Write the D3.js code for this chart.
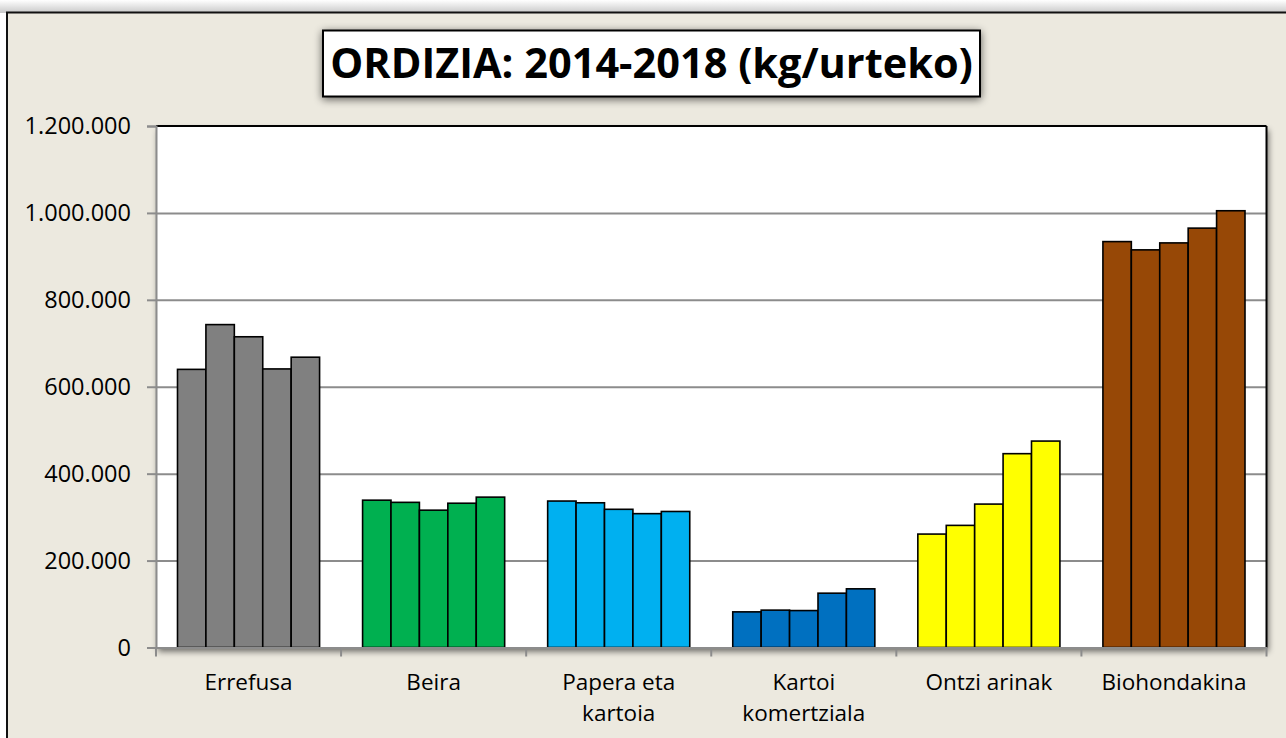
<!DOCTYPE html>
<html>
<head>
<meta charset="utf-8">
<script src="https://cdn.jsdelivr.net/npm/d3@7"></script>
<style>
  html, body { margin: 0; padding: 0; background: #ffffff; }
  svg { display: block; }
</style>
</head>
<body>
<svg id="chart" width="1286" height="738"></svg>
<script>
// ---- Data ----
const titleText = "ORDIZIA: 2014-2018 (kg/urteko)";
const categories = ["Errefusa", "Beira", "Papera eta kartoia", "Kartoi komertziala", "Ontzi arinak", "Biohondakina"];
const categoryLabels = [["Errefusa"], ["Beira"], ["Papera eta", "kartoia"], ["Kartoi", "komertziala"], ["Ontzi arinak"], ["Biohondakina"]];
const years = ["2014", "2015", "2016", "2017", "2018"];
const errefusa = [640000, 743000, 715000, 641000, 668000];
const beira = [339000, 334000, 316000, 332000, 346000];
const paperaEtaKartoia = [337000, 333000, 318000, 308000, 313000];
const kartoiKomertziala = [82000, 86000, 85000, 125000, 135000];
const ontziArinak = [261000, 281000, 330000, 446000, 475000];
const biohondakina = [934000, 915000, 931000, 965000, 1005000];
const yTicks = [0, 200000, 400000, 600000, 800000, 1000000, 1200000];
const categoryColors = ["#808080", "#00B050", "#00B0F0", "#0070C0", "#FFFF00", "#974806"];

const seriesByCategory = [errefusa, beira, paperaEtaKartoia, kartoiKomertziala, ontziArinak, biohondakina];
const rows = [];
categories.forEach((c, i) => years.forEach((yr, j) => rows.push({cat: c, ci: i, year: yr, value: seriesByCategory[i][j]})));

// ---- Layout ----
const svg = d3.select("#chart");
const W = 1286, H = 738;
const plot = {left: 156, top: 126, right: 1266.5, bottom: 647.5};
const pw = plot.right - plot.left, ph = plot.bottom - plot.top;
const FONT = "'Open Sans', 'Noto Sans', sans-serif";

const defs = svg.append("defs");
const topShade = defs.append("linearGradient").attr("id", "topShade").attr("x1", 0).attr("x2", 0).attr("y1", 0).attr("y2", 1);
topShade.append("stop").attr("offset", "0%").attr("stop-color", "#ffffff");
topShade.append("stop").attr("offset", "100%").attr("stop-color", "#c8c8c8");

const shadow = defs.append("filter").attr("id", "shadow").attr("x", "-10%").attr("y", "-10%").attr("width", "120%").attr("height", "130%");
shadow.append("feGaussianBlur").attr("in", "SourceAlpha").attr("stdDeviation", 3);
shadow.append("feOffset").attr("dx", 2).attr("dy", 4).attr("result", "ob");
shadow.append("feComponentTransfer").append("feFuncA").attr("type", "linear").attr("slope", 0.55);
const sm = shadow.append("feMerge");
sm.append("feMergeNode");
sm.append("feMergeNode").attr("in", "SourceGraphic");

const shadow2 = defs.append("filter").attr("id", "shadow2").attr("x", "-10%").attr("y", "-20%").attr("width", "120%").attr("height", "150%");
shadow2.append("feGaussianBlur").attr("in", "SourceAlpha").attr("stdDeviation", 4);
shadow2.append("feOffset").attr("dx", 0).attr("dy", 2).attr("result", "ob");
shadow2.append("feComponentTransfer").append("feFuncA").attr("type", "linear").attr("slope", 0.6);
const sm2 = shadow2.append("feMerge");
sm2.append("feMergeNode");
sm2.append("feMergeNode").attr("in", "SourceGraphic");

// page background and top shading
svg.append("rect").attr("x", 0).attr("y", 0).attr("width", W).attr("height", 13).attr("fill", "url(#topShade)");
// chart area
svg.append("rect").attr("x", 7).attr("y", 12.5).attr("width", W + 20).attr("height", H + 20)
  .attr("fill", "#ECE9DF").attr("stroke", "#111").attr("stroke-width", 2);

// ---- Scales ----
const x0 = d3.scaleBand().domain(categories).range([plot.left, plot.right]).padding(0);
const innerPad = 21.5;
const x1 = d3.scaleBand().domain(years).range([innerPad, x0.bandwidth() - innerPad]).padding(0);
const y = d3.scaleLinear().domain([0, 1200000]).range([plot.bottom, plot.top]);

const locale = d3.formatLocale({decimal: ",", thousands: ".", grouping: [3], currency: ["", ""]});
const fmt = locale.format(",.0f");

// plot background with shadow
svg.append("rect").attr("x", plot.left).attr("y", plot.top).attr("width", pw).attr("height", ph)
  .attr("fill", "#ffffff").attr("filter", "url(#shadow)");

// gridlines
const grid = svg.append("g").attr("transform", `translate(${plot.left},0)`)
  .call(d3.axisLeft(y).tickValues(yTicks.filter(v => v > 0 && v < 1200000)).tickSize(-pw).tickFormat(""));
grid.select(".domain").remove();
grid.selectAll(".tick line").attr("stroke", "#8c8c8c").attr("stroke-width", 2);

// plot border top & right
svg.append("line").attr("x1", plot.left).attr("x2", plot.right).attr("y1", plot.top).attr("y2", plot.top)
  .attr("stroke", "#000").attr("stroke-width", 2);
svg.append("line").attr("x1", plot.right).attr("x2", plot.right).attr("y1", plot.top).attr("y2", plot.bottom)
  .attr("stroke", "#000").attr("stroke-width", 2);

// bars
svg.append("g").selectAll("rect").data(rows).join("rect")
  .attr("x", d => x0(d.cat) + x1(d.year))
  .attr("y", d => y(d.value))
  .attr("width", x1.bandwidth())
  .attr("height", d => y(0) - y(d.value))
  .attr("fill", d => categoryColors[d.ci])
  .attr("stroke", "#000").attr("stroke-width", 1.6);

// y axis
const yAxis = svg.append("g").attr("transform", `translate(${plot.left},0)`)
  .call(d3.axisLeft(y).tickValues(yTicks).tickSize(9).tickPadding(16).tickFormat(fmt));
yAxis.select(".domain").attr("stroke", "#8c8c8c").attr("stroke-width", 2);
yAxis.selectAll(".tick line").attr("stroke", "#8c8c8c").attr("stroke-width", 2);
yAxis.selectAll(".tick text").attr("font-family", FONT).attr("font-size", "23.5px").attr("fill", "#000");

// x axis
const xAxis = svg.append("g").attr("transform", `translate(0,${plot.bottom})`)
  .call(d3.axisBottom(x0).tickSize(0).tickPadding(0).tickFormat(""));
xAxis.select(".domain").attr("stroke", "#8c8c8c").attr("stroke-width", 2);
xAxis.selectAll(".tick text").remove();
const boundaries = categories.map(c => x0(c)).concat([x0(categories[categories.length - 1]) + x0.bandwidth()]);
xAxis.append("g").selectAll("line").data(boundaries).join("line")
  .attr("x1", d => d).attr("x2", d => d).attr("y1", 0).attr("y2", 9)
  .attr("stroke", "#8c8c8c").attr("stroke-width", 2);

// category labels
const labG = svg.append("g").attr("font-family", FONT).attr("font-size", "22.5px").attr("fill", "#000").attr("text-anchor", "middle");
categories.forEach((c, i) => {
  const t = labG.append("text").attr("x", x0(c) + x0.bandwidth() / 2).attr("y", 690);
  categoryLabels[i].forEach((line, k) => {
    t.append("tspan").attr("x", x0(c) + x0.bandwidth() / 2).attr("dy", k === 0 ? 0 : 31).text(line);
  });
});

// title
svg.append("rect").attr("x", 323).attr("y", 30.5).attr("width", 657).attr("height", 66)
  .attr("fill", "#ffffff").attr("stroke", "#000").attr("stroke-width", 2).attr("filter", "url(#shadow2)");
svg.append("text").attr("x", 651.5).attr("y", 78).attr("text-anchor", "middle")
  .attr("font-family", FONT).attr("font-weight", "bold").attr("font-size", "41.5px").attr("fill", "#000")
  .text(titleText);
</script>
</body>
</html>
